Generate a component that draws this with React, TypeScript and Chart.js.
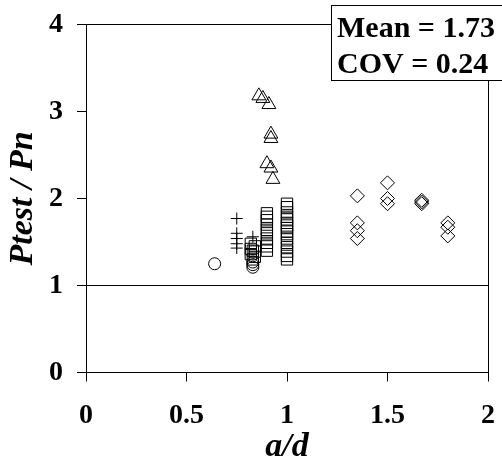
import React, { useEffect, useRef } from "react";
import { Chart, registerables } from "chart.js";

Chart.register(...registerables);

// a/d values and Ptest/Pn ratios
const crossX = [0.75, 0.75, 0.75, 0.75, 0.75, 0.83];
const crossY = [1.77, 1.6, 1.54, 1.48, 1.43, 1.56];

const circleX = [0.64, 0.83, 0.83, 0.83];
const circleY = [1.25, 1.27, 1.24, 1.21];

const triangleX = [0.86, 0.88, 0.91, 0.92, 0.92, 0.9, 0.92, 0.93];
const triangleY = [3.18, 3.15, 3.08, 2.74, 2.69, 2.4, 2.35, 2.22];

const squareX = [
  0.82, 0.84, 0.82, 0.84, 0.82, 0.84, 0.83, 0.83,
  0.9, 0.9, 0.9, 0.9, 0.9, 0.9, 0.9, 0.9, 0.9, 0.9,
  1.0, 1.0, 1.0, 1.0, 1.0, 1.0, 1.0, 1.0, 1.0, 1.0, 1.0, 1.0, 1.0, 1.0, 1.0, 1.0,
];
const squareY = [
  1.48, 1.45, 1.42, 1.39, 1.36, 1.33, 1.3, 1.4,
  1.83, 1.79, 1.75, 1.7, 1.64, 1.6, 1.54, 1.49, 1.45, 1.4,
  1.94, 1.9, 1.84, 1.79, 1.76, 1.72, 1.69, 1.66, 1.62, 1.59, 1.54, 1.49, 1.44, 1.39, 1.34, 1.3,
];

const diamondX = [1.35, 1.35, 1.35, 1.35, 1.5, 1.5, 1.5, 1.67, 1.67, 1.67, 1.8, 1.8, 1.8];
const diamondY = [2.03, 1.72, 1.63, 1.54, 2.18, 2.0, 1.94, 1.98, 1.96, 1.94, 1.72, 1.67, 1.57];

const refLineX = [0, 2];
const refLineY = [1, 1];

const statLines = ["Mean = 1.73", "COV = 0.24"];

const FONT = "'Liberation Serif', 'Times New Roman', serif";

const pts = (xs: number[], ys: number[]) => xs.map((x, i) => ({ x, y: ys[i] }));

export default function App() {
  const ref = useRef<HTMLCanvasElement | null>(null);

  useEffect(() => {
    if (!ref.current) return;
    const marker = (label: string, style: string, xs: number[], ys: number[], r: number) => ({
      type: "scatter" as const,
      label,
      data: pts(xs, ys),
      pointStyle: style,
      pointRadius: r,
      pointHoverRadius: r,
      pointBorderWidth: 1,
      borderColor: "#000",
      pointBorderColor: "#000",
      pointBackgroundColor: "rgba(0,0,0,0)",
      backgroundColor: "rgba(0,0,0,0)",
      showLine: false,
    });

    const framePlugin = {
      id: "frame",
      afterDatasetsDraw(chart: any) {
        const { ctx, chartArea } = chart;
        const top = Math.floor(chartArea.top) + 0.5;
        const right = Math.round(chartArea.right) + 0.5;
        ctx.save();
        ctx.strokeStyle = "#000";
        ctx.lineWidth = 1;
        ctx.beginPath();
        ctx.moveTo(chartArea.left, top);
        ctx.lineTo(right, top);
        ctx.lineTo(right, chartArea.bottom);
        ctx.stroke();
        // stats box
        const bx = 331.5, by = 5.5, bw = 180, bh = 75;
        ctx.fillStyle = "#fff";
        ctx.fillRect(bx, by, bw, bh);
        ctx.strokeRect(bx, by, bw, bh);
        ctx.fillStyle = "#000";
        ctx.font = `bold 30px ${FONT}`;
        ctx.textBaseline = "alphabetic";
        ctx.textAlign = "left";
        ctx.fillText(statLines[0], 337, 37);
        ctx.fillText(statLines[1], 337, 73);
        ctx.restore();
      },
    };

    const chart = new Chart(ref.current, {
      type: "scatter",
      data: {
        datasets: [
          {
            type: "line" as const,
            label: "ref",
            data: pts(refLineX, refLineY),
            borderColor: "#000",
            borderWidth: 1,
            pointRadius: 0,
            showLine: true,
            fill: false,
          },
          marker("cross", "cross", crossX, crossY, 6),
          marker("circle", "circle", circleX, circleY, 6),
          marker("triangle", "triangle", triangleX, triangleY, 8),
          marker("square", "rect", squareX, squareY, 8),
          marker("diamond", "rectRot", diamondX, diamondY, 7),
        ] as any,
      },
      options: {
        responsive: false,
        animation: false,
        devicePixelRatio: 1,
        layout: { padding: { top: 24.5, right: 14, left: 0, bottom: 0 } },
        plugins: { legend: { display: false }, tooltip: { enabled: false } },
        scales: {
          x: {
            type: "linear",
            min: 0,
            max: 2,
            ticks: {
              stepSize: 0.5,
              color: "#000",
              font: { family: FONT, size: 28, weight: "bold" },
              padding: 17,
              maxRotation: 0,
              callback: (v: any) => String(Number(v)),
            },
            grid: {
              display: true,
              drawOnChartArea: false,
              drawTicks: true,
              tickLength: 9,
              color: "#000",
            },
            border: { display: true, color: "#000", width: 1 },
            title: {
              display: true,
              text: "a/d",
              color: "#000",
              font: { family: FONT, size: 34, weight: "bold", style: "italic" },
              padding: { top: 0, bottom: 0 },
            },
            afterFit(scale: any) {
              scale.height = 95.5;
              scale.paddingLeft = 0;
              scale.paddingRight = 0;
            },
          },
          y: {
            type: "linear",
            min: 0,
            max: 4,
            ticks: {
              stepSize: 1,
              color: "#000",
              font: { family: FONT, size: 28, weight: "bold" },
              padding: 14,
              callback: (v: any) => String(Number(v)),
            },
            grid: {
              display: true,
              drawOnChartArea: false,
              drawTicks: true,
              tickLength: 9,
              color: "#000",
            },
            border: { display: true, color: "#000", width: 1 },
            title: {
              display: true,
              text: "Ptest / Pn",
              color: "#000",
              font: { family: FONT, size: 34, weight: "bold", style: "italic" },
              padding: { top: 3, bottom: 0 },
            },
            afterFit(scale: any) {
              scale.width = 86;
              scale.paddingTop = 0;
              scale.paddingBottom = 0;
            },
          },
        },
      } as any,
      plugins: [framePlugin],
    });
    return () => chart.destroy();
  }, []);

  return (
    <div style={{ position: "absolute", left: 0, top: 0, width: 502, height: 468, background: "#fff" }}>
      <canvas ref={ref} width={502} height={468} style={{ width: 502, height: 468 }} />
    </div>
  );
}
